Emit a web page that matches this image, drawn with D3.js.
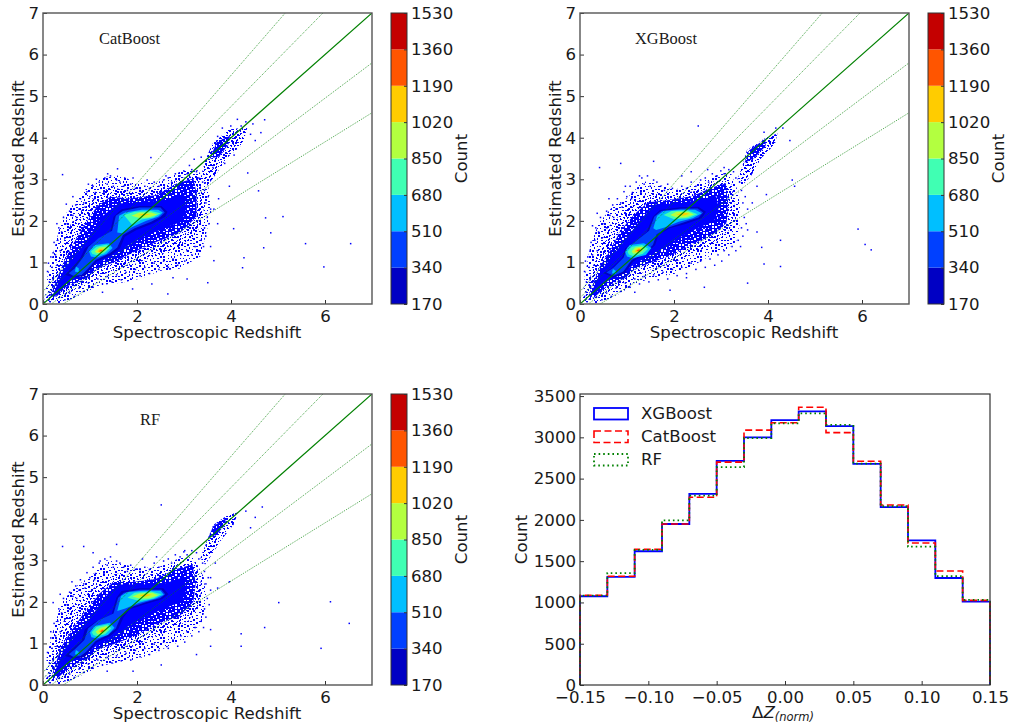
<!DOCTYPE html>
<html>
<head>
<meta charset="utf-8">
<script src="https://cdn.jsdelivr.net/npm/d3@7"></script>
<style>
  html, body { margin: 0; padding: 0; background: #fff; }
  svg { display: block; }
  text { font-family: "DejaVu Sans", sans-serif; fill: #1a1a1a; }
</style>
</head>
<body>
<svg id="chart" width="1013" height="725"></svg>
<script>
// ---- colorbar levels (contourf) ----
const LEVELS = [170, 340, 510, 680, 850, 1020, 1190, 1360, 1530];
const LEVEL_COLORS = ['#0000c4', '#0040ff', '#00bfff', '#40ffb3', '#b3ff40', '#ffcc00', '#ff5500', '#c40000'];

// ---- scatter panels: estimated outlines of the point cloud (spec z, est z) ----
const catSparse = [[.03,.05],[.1,.7],[.28,1.5],[.4,2.05],[.68,2.45],[.9,2.75],[1.25,3.05],[1.65,3.1],[2,2.9],[2.5,2.95],[2.95,3.2],[3.3,3.22],[3.52,2.8],[3.58,2.2],[3.45,1.6],[3.35,1.15],[2.9,.85],[2.5,.8],[2.1,.62],[1.7,.52],[1.2,.45],[.8,.22],[.4,.02]];
const catInner = [[.08,.08],[.25,.85],[.42,1.45],[.6,1.95],[.85,2.3],[1.12,2.62],[1.45,2.82],[1.9,2.68],[2.45,2.75],[2.9,3.02],[3.3,3.1],[3.4,2.6],[3.42,2.05],[3.2,1.55],[2.8,1.3],[2.4,1.15],[1.9,.95],[1.45,.78],[1.05,.62],[.75,.4],[.38,.12]];
const catMid = [[.15,.18],[.43,.98],[.65,1.46],[.86,1.86],[1.14,2.34],[1.43,2.58],[1.85,2.54],[2.42,2.62],[2.84,2.9],[3.2,3.02],[3.27,2.66],[3.27,2.1],[2.91,1.7],[2.42,1.5],[1.85,1.2],[1.5,1.0],[1.14,.85],[.93,.62],[.5,.42],[.29,.18]];
const catSolid = [[.2,.2],[.45,.85],[.75,1.25],[1.0,1.65],[1.25,2.1],[1.6,2.42],[2.1,2.45],[2.6,2.5],[3.0,2.65],[3.05,2.3],[2.95,1.98],[2.65,1.85],[2.2,1.65],[1.8,1.4],[1.45,1.15],[1.1,.95],[.8,.7],[.5,.5],[.3,.2]];
const catTail = [[3.35,3.0],[3.45,3.45],[3.6,3.85],[3.95,4.2],[4.35,4.25],[4.25,3.85],[3.9,3.5],[3.7,3.15],[3.5,2.85]];
const catCore = [[3.55,3.5],[3.7,3.9],[3.98,4.05],[3.95,3.85],[3.75,3.55]];
const catBands = [
  [0, [[.47,.70],[.61,.86],[.79,1.10],[.89,1.34],[1.14,1.54],[1.43,1.74],[1.50,2.10],[1.67,2.28],[2.06,2.36],[2.52,2.36],[2.65,2.22],[2.60,2.10],[2.35,1.94],[1.99,1.78],[1.74,1.62],[1.64,1.34],[1.46,1.18],[1.14,1.02],[1.0,.82],[.89,.67],[.65,.64]]],
  [1, [[.55,.74],[.68,.86],[.85,1.12],[.97,1.38],[1.18,1.58],[1.47,1.76],[1.55,2.12],[1.70,2.24],[2.06,2.32],[2.50,2.32],[2.59,2.2],[2.5,2.1],[2.3,1.98],[1.95,1.82],[1.70,1.66],[1.58,1.36],[1.42,1.22],[1.12,1.06],[.95,.84],[.82,.70],[.64,.68]]],
  [2, [[.98,1.26],[1.1,1.42],[1.4,1.46],[1.48,1.35],[1.35,1.2],[1.15,1.12],[1.02,1.14]]],
  [2, [[1.58,1.72],[1.62,2.12],[1.75,2.2],[2.1,2.27],[2.45,2.27],[2.55,2.2],[2.45,2.1],[2.2,2.0],[1.9,1.85],[1.68,1.7]]],
  [2, [[.68,.78],[.7,.9],[.76,.86],[.76,.76]]],
  [3, [[1.02,1.27],[1.14,1.38],[1.36,1.43],[1.42,1.34],[1.3,1.22],[1.15,1.17],[1.05,1.2]]],
  [3, [[1.72,2.14],[1.95,2.22],[2.3,2.24],[2.5,2.18],[2.35,2.08],[2.1,2.03],[1.9,1.9]]],
  [4, [[1.1,1.27],[1.2,1.36],[1.34,1.38],[1.36,1.32],[1.25,1.23],[1.14,1.22]]],
  [4, [[1.88,2.12],[2.05,2.2],[2.3,2.2],[2.43,2.15],[2.25,2.08],[2.05,2.07]]],
  [5, [[1.15,1.27],[1.22,1.33],[1.3,1.33],[1.28,1.27],[1.2,1.24]]],
  [5, [[2.02,2.14],[2.15,2.17],[2.28,2.16],[2.15,2.12]]],
  [6, [[1.18,1.27],[1.24,1.3],[1.27,1.28],[1.22,1.26]]]
];
const catPoints = [[5.57,1.47],[6.53,1.47],[5.96,.91],[5.09,2.12],[4.83,1.73],[4.72,2.09],[4.68,1.37],[4.57,2.74],[4.26,1.13],[4.23,.89],[4.04,1.83],[3.62,1.06],[3.49,.53],[2.64,.26],[1.89,.38],[.4,3.13],[1.57,3.27],[1.36,3.15],[2.28,3.54],[4.34,3.17],[4.62,4.14],[4.7,4.45],[4.45,4.35],[4.3,4.4],[4.12,4.46],[3.98,4.3],[4.2,4.3],[3.85,3.4],[4.05,3.6],[3.95,2.85],[3.72,2.55],[3.62,2.3],[3.7,1.95],[3.55,1.4],[3.05,.62],[2.75,.65],[2.3,.5],[1.25,.3],[.2,1.25],[.1,1.0],[.28,1.95],[.48,2.42],[.62,2.6],[.95,2.9],[1.12,3.02],[1.9,3.05],[2.2,3.0],[2.6,3.1],[3.1,3.35],[3.2,3.5],[3.35,3.55],[4.4,4.1],[4.5,3.95],[3.8,4.25],[3.7,4.05],[3.6,3.3]];

const xgbSparse = [[.05,.05],[.1,.65],[.22,1.4],[.4,1.95],[.7,2.35],[1.0,2.55],[1.35,2.95],[1.6,2.9],[2,2.75],[2.5,2.9],[2.85,3.08],[3.2,3.18],[3.38,2.65],[3.42,2.05],[3.32,1.5],[3.1,1.3],[2.75,1.15],[2.4,.92],[2,.72],[1.6,.65],[1.2,.5],[.8,.22],[.4,.02]];
const xgbInner = [[.1,.1],[.25,.8],[.4,1.35],[.6,1.85],[.9,2.2],[1.2,2.5],[1.5,2.68],[1.95,2.62],[2.45,2.72],[2.85,2.95],[3.2,3.0],[3.28,2.5],[3.28,2.0],[3.05,1.55],[2.65,1.35],[2.3,1.15],[1.9,.95],[1.45,.82],[1.05,.62],[.75,.38],[.38,.12]];
const xgbMid = [[.18,.2],[.42,.9],[.65,1.3],[.85,1.75],[1.15,2.15],[1.45,2.45],[1.9,2.5],[2.4,2.6],[2.8,2.8],[3.1,2.9],[3.15,2.4],[3.12,1.95],[2.8,1.65],[2.4,1.45],[1.9,1.15],[1.5,1.0],[1.15,.82],[.93,.6],[.55,.42],[.3,.15]];
const xgbSolid = [[.22,.22],[.45,.8],[.72,1.2],[1.0,1.6],[1.3,2.05],[1.6,2.4],[2.1,2.42],[2.5,2.5],[2.9,2.6],[2.95,2.3],[2.85,1.98],[2.55,1.85],[2.15,1.62],[1.8,1.38],[1.45,1.15],[1.15,.95],[.85,.7],[.5,.5],[.32,.22]];
const xgbTail = [[3.35,3.0],[3.45,3.3],[3.55,3.7],[3.95,4.0],[4.2,4.1],[4.15,3.85],[3.85,3.5],[3.65,3.1],[3.45,2.85]];
const xgbCore = [[3.5,3.4],[3.6,3.7],[3.95,3.98],[3.95,3.8],[3.7,3.5]];
const xgbBands = [
  [0, [[.50,.74],[.67,.86],[.89,1.10],[.96,1.34],[1.21,1.54],[1.42,1.74],[1.55,2.10],[1.70,2.26],[2.13,2.33],[2.52,2.34],[2.68,2.22],[2.59,2.06],[2.23,1.92],[1.91,1.82],[1.67,1.66],[1.60,1.42],[1.42,1.22],[1.13,1.02],[.96,.74],[.71,.64]]],
  [1, [[.56,.76],[.72,.88],[.93,1.12],[1.0,1.36],[1.24,1.56],[1.47,1.76],[1.58,2.10],[1.73,2.24],[2.13,2.29],[2.5,2.3],[2.62,2.2],[2.52,2.08],[2.2,1.96],[1.88,1.84],[1.63,1.68],[1.55,1.42],[1.38,1.24],[1.1,1.06],[.92,.78],[.72,.68]]],
  [2, [[.96,1.26],[1.06,1.42],[1.36,1.46],[1.52,1.35],[1.4,1.18],[1.12,1.1],[1.0,1.14]]],
  [2, [[1.56,1.82],[1.64,2.12],[1.78,2.24],[2.15,2.27],[2.45,2.27],[2.59,2.18],[2.4,2.06],[2.1,1.98],[1.8,1.84],[1.62,1.78]]],
  [2, [[.68,.74],[.7,.84],[.76,.8],[.76,.72]]],
  [3, [[1.01,1.26],[1.1,1.38],[1.32,1.42],[1.45,1.33],[1.33,1.2],[1.14,1.15],[1.04,1.19]]],
  [3, [[1.78,2.14],[1.95,2.24],[2.3,2.25],[2.5,2.16],[2.3,2.06],[2.0,2.04]]],
  [4, [[1.1,1.27],[1.18,1.36],[1.32,1.38],[1.37,1.32],[1.25,1.22],[1.13,1.21]]],
  [4, [[1.92,2.14],[2.05,2.22],[2.3,2.22],[2.42,2.15],[2.25,2.08],[2.05,2.08]]],
  [5, [[1.16,1.27],[1.24,1.34],[1.32,1.33],[1.3,1.27],[1.2,1.24]]],
  [5, [[2.05,2.15],[2.2,2.2],[2.33,2.17],[2.2,2.12]]],
  [6, [[1.2,1.28],[1.26,1.32],[1.29,1.29],[1.24,1.26]]]
];
const xgbPoints = [[5.9,1.82],[6.18,1.32],[6.05,1.45],[4.25,.92],[4.25,1.55],[3.9,.98],[3.85,1.38],[3.55,.52],[2.63,.42],[1.9,.35],[.4,3.3],[.85,3.4],[1.55,3.45],[2.5,4.3],[3.55,1.8],[3.75,1.75],[3.95,2.65],[3.65,2.45],[4.5,3.0],[4.55,2.85],[4.3,4.25],[4.15,4.25],[3.9,4.15],[4.45,3.95],[2.15,3.1],[2.35,3.2],[2.7,3.25],[3.05,3.3],[.35,2.2],[.25,1.9],[.1,1.05],[.6,2.55],[.95,2.85],[1.25,3.1],[3.75,2.85],[1.15,.3],[2.25,.65]];

const rfSparse = [[.05,.05],[.08,.7],[.25,1.45],[.4,2.0],[.68,2.35],[1.05,2.65],[1.35,3.0],[1.6,2.95],[2,2.8],[2.5,2.85],[2.9,3.05],[3.2,3.08],[3.42,2.6],[3.48,2.05],[3.38,1.5],[3.0,1.08],[2.7,.95],[2.4,.78],[2,.62],[1.6,.55],[1.2,.45],[.8,.22],[.4,.02]];
const rfInner = [[.1,.1],[.22,.85],[.38,1.4],[.58,1.85],[.9,2.15],[1.25,2.5],[1.55,2.68],[1.95,2.62],[2.45,2.68],[2.85,2.9],[3.25,2.95],[3.35,2.5],[3.35,2.0],[3.1,1.55],[2.7,1.32],[2.35,1.15],[1.9,.92],[1.45,.75],[1.05,.6],[.75,.38],[.38,.12]];
const rfMid = [[.18,.2],[.38,.9],[.6,1.3],[.85,1.7],[1.2,2.2],[1.5,2.48],[1.9,2.48],[2.4,2.55],[2.8,2.78],[3.18,2.9],[3.25,2.45],[3.2,2.0],[2.9,1.65],[2.45,1.48],[1.9,1.15],[1.5,.98],[1.15,.85],[.93,.62],[.55,.42],[.3,.15]];
const rfSolid = [[.22,.22],[.42,.8],[.7,1.2],[1.0,1.6],[1.3,2.1],[1.6,2.42],[2.1,2.42],[2.6,2.45],[3.0,2.6],[3.05,2.3],[2.95,2.0],[2.6,1.85],[2.2,1.65],[1.8,1.4],[1.45,1.12],[1.15,.95],[.85,.7],[.5,.5],[.32,.22]];
const rfTail = [[3.35,3.05],[3.5,3.5],[3.62,3.85],[3.95,4.1],[4.15,4.15],[4.05,3.85],[3.8,3.5],[3.6,3.15],[3.45,2.9]];
const rfCore = [[3.52,3.55],[3.62,3.82],[3.9,4.02],[3.85,3.82],[3.68,3.6]];
const rfBands = [
  [0, [[.47,.70],[.61,.86],[.82,1.06],[.89,1.34],[1.14,1.54],[1.46,1.7],[1.56,2.10],[1.67,2.26],[2.06,2.33],[2.56,2.33],[2.67,2.18],[2.53,2.06],[2.17,1.94],[1.85,1.82],[1.71,1.62],[1.60,1.34],[1.43,1.18],[1.14,1.02],[.96,.78],[.89,.67],[.65,.64]]],
  [1, [[.55,.74],[.68,.86],[.88,1.08],[.96,1.36],[1.18,1.56],[1.5,1.72],[1.6,2.10],[1.72,2.22],[2.06,2.29],[2.52,2.29],[2.6,2.18],[2.5,2.09],[2.15,1.98],[1.82,1.85],[1.66,1.66],[1.55,1.36],[1.4,1.22],[1.12,1.06],[.92,.8],[.8,.7],[.64,.68]]],
  [2, [[1.0,1.26],[1.1,1.42],[1.42,1.5],[1.52,1.38],[1.38,1.2],[1.15,1.12],[1.03,1.15]]],
  [2, [[1.58,1.78],[1.66,2.14],[1.8,2.24],[2.15,2.27],[2.5,2.27],[2.57,2.17],[2.4,2.08],[2.05,1.98],[1.75,1.84]]],
  [2, [[.68,.74],[.7,.84],[.76,.8],[.76,.72]]],
  [3, [[1.04,1.27],[1.14,1.4],[1.38,1.46],[1.45,1.36],[1.32,1.22],[1.15,1.17],[1.07,1.2]]],
  [3, [[1.8,2.1],[1.95,2.22],[2.3,2.25],[2.52,2.18],[2.35,2.08],[2.05,2.02]]],
  [4, [[1.12,1.28],[1.22,1.38],[1.36,1.42],[1.38,1.34],[1.27,1.23],[1.16,1.22]]],
  [4, [[1.9,2.13],[2.05,2.2],[2.32,2.22],[2.45,2.16],[2.25,2.08],[2.05,2.08]]],
  [5, [[1.18,1.29],[1.25,1.35],[1.33,1.36],[1.3,1.28],[1.22,1.25]]],
  [5, [[2.05,2.15],[2.18,2.19],[2.32,2.17],[2.18,2.12]]],
  [6, [[1.22,1.29],[1.27,1.33],[1.3,1.3],[1.25,1.27]]]
];
const rfPoints = [[6.1,2.02],[6.5,1.5],[5.9,.9],[5.0,2.0],[4.7,1.4],[4.2,1.25],[4.2,.95],[3.55,1.35],[3.55,.95],[3.25,.75],[2.5,.5],[1.9,.35],[1.35,.35],[.4,3.35],[.85,3.35],[1.05,3.2],[1.55,3.4],[2.5,4.35],[4.65,4.3],[4.3,4.2],[4.5,4.05],[3.95,2.5],[3.7,2.35],[3.55,2.6],[3.65,2.95],[4.4,3.8],[.2,2.0],[.15,1.3],[.35,2.2],[.6,2.5],[1.2,3.0],[2.1,3.05],[2.4,3.1],[3.0,3.25]];

// stragglers along the edge of the cloud, about the same in all three panels
const edgePoints = [[.12,.55],[.18,.9],[.08,.8],[.25,1.2],[.15,1.15],[.3,1.55],[.22,1.5],[.38,1.75],[.32,1.85],[.42,2.1],[.5,1.95],[.55,2.25],[.62,2.15],[.68,2.4],[.75,2.3],[.78,2.55],[.85,2.45],[.92,2.72],[.98,2.6],[1.05,2.85],[1.1,2.7],[1.18,2.95],[1.22,2.8],[1.3,3.05],[1.35,2.9],[1.42,3.1],[1.48,2.85],[1.55,3.0],[1.62,2.95],[1.7,2.85],[1.78,2.75],[1.85,2.9],[1.95,2.8],[2.05,2.75],[2.15,2.85],[2.25,2.8],[2.35,2.95],[2.45,2.85],[2.55,3.0],[2.65,3.05],[2.72,2.95],[2.8,3.15],[2.9,3.1],[2.98,3.22],[3.05,3.15],[3.15,3.25],[3.25,3.2],[3.3,3.05],[3.38,2.95],[3.42,2.75],[3.5,2.6],[3.45,2.45],[3.55,2.3],[3.48,2.1],[3.52,1.95],[3.42,1.85],[3.45,1.65],[3.35,1.55],[3.4,1.4],[3.3,1.3],[3.22,1.4],[3.15,1.2],[3.05,1.3],[3.0,1.05],[2.92,1.2],[2.85,.95],[2.75,1.1],[2.65,.9],[2.55,1.05],[2.45,.85],[2.35,1.0],[2.25,.75],[2.15,.9],[2.05,.7],[1.95,.85],[1.85,.62],[1.75,.78],[1.65,.6],[1.55,.72],[1.45,.55],[1.35,.68],[1.25,.5],[1.15,.62],[1.05,.42],[.95,.52],[.85,.32],[.75,.4],[.65,.2],[.55,.28],[.45,.12],[.08,.2],[.12,.3],[.2,.6],[.28,.95],[.35,1.3],[.45,1.6],[.55,1.85],[.7,2.1],[.88,2.35],[1.08,2.55],[1.28,2.7]];

// deviation of the guide lines from est = spec, in units of (1 + z)
const GUIDE_DEVS = [0.3, 0.15, -0.15, -0.3];

// ---- histogram of normalised residuals ----
const HIST_EDGES = [-0.15,-0.13,-0.11,-0.09,-0.07,-0.05,-0.03,-0.01,0.01,0.03,0.05,0.07,0.09,0.11,0.13,0.15];
const xgbHist = [1075,1310,1620,1950,2315,2715,3000,3209,3314,3137,2678,2155,1752,1296,1010];
const catHist = [1088,1318,1645,1950,2275,2700,3087,3177,3365,3057,2710,2180,1720,1381,1025];
const rfHist  = [1082,1355,1638,1995,2295,2640,2990,3170,3290,3150,2682,2165,1675,1320,1030];
const X_TICKS = [-0.15,-0.10,-0.05,0,0.05,0.10,0.15];
const Y_TICKS = [0,500,1000,1500,2000,2500,3000,3500];
const Z_TICKS_X = [0,2,4,6];
const Z_TICKS_Y = [0,1,2,3,4,5,6,7];

// speckle tile for the parts of the cloud where single points still show
const TILE = [
  "#...#.....#.....#..#....",
  ".....#..#.....#.......#.",
  "..#.......#.#.....#.....",
  "#.....#........#.....#..",
  "...#.....#..#......#....",
  ".#....#.......#.#.....#.",
  "....#....#.#.......#....",
  "#.#.....#.....#..#....#.",
  "......#....#.......#....",
  "..#.#.....#...#.#.....#.",
  "#.......#.........#.#...",
  "....#.#....#.#........#.",
  ".#.......#.....#..#.....",
  "...#..#.....#.......#..#",
  "#.....#.#.......#.#.....",
  "..#........#.#.......#..",
  ".....#.#.......#...#....",
  "#..#.......#.....#....#.",
  "......#.#....#.#........",
  ".#..#......#.......#.#..",
  "........#.....#.#......#",
  "..#.#.....#.#.......#...",
  "#.....#.........#.#.....",
  "...#.....#.#.#.......#.."
];

const FONT = 16.6;
const SPINE = '#555';
const svg = d3.select('#chart');
const defs = svg.append('defs');

function makeTile(id, background, ink, transform) {
  const cell = 1.5;
  const p = defs.append('pattern').attr('id', id).attr('patternUnits', 'userSpaceOnUse')
    .attr('width', TILE[0].length * cell).attr('height', TILE.length * cell);
  if (transform) p.attr('patternTransform', transform);
  if (background) p.append('rect').attr('width', '100%').attr('height', '100%').attr('fill', background);
  TILE.forEach((row, r) => row.split('').forEach((c, k) => {
    if (c === '#') p.append('rect').attr('x', k * cell).attr('y', r * cell)
      .attr('width', cell).attr('height', cell).attr('fill', ink).attr('shape-rendering', 'crispEdges');
  }));
}
makeTile('speckleSparse', null, '#0000ff');
makeTile('speckleTurned', null, '#0000ff', 'rotate(90) translate(7,11)');
makeTile('speckleMid', '#0000ff', '#ffffff');

function frame(g, W, H) {
  g.append('rect').attr('width', W).attr('height', H).attr('fill', 'none')
    .attr('stroke', SPINE).attr('stroke-width', 1.4);
}

function styleAxis(a) {
  a.selectAll('.domain').remove();
  a.selectAll('line').attr('stroke', '#333').attr('stroke-width', 1);
  a.selectAll('text').attr('font-size', FONT).attr('fill', '#1a1a1a').attr('font-family', '"DejaVu Sans", sans-serif');
}

function scatterPanel(opt) {
  const W = 329, H = 291;
  const x = d3.scaleLinear().domain([0, 7]).range([0, W]);
  const y = d3.scaleLinear().domain([0, 7]).range([H, 0]);
  const g = svg.append('g').attr('transform', `translate(${opt.left},${opt.top})`);
  const clipId = 'clip' + opt.name;
  defs.append('clipPath').attr('id', clipId).append('rect').attr('width', W).attr('height', H);
  const plot = g.append('g').attr('clip-path', `url(#${clipId})`);
  const poly = d3.line().x(d => x(d[0])).y(d => y(d[1])).curve(d3.curveLinearClosed);

  // cloud, from the outside in: sparse fringe, thicker fringe, speckled shell, solid middle
  plot.append('path').attr('d', poly(opt.sparse)).attr('fill', 'url(#speckleSparse)');
  plot.append('path').attr('d', poly(opt.inner)).attr('fill', 'url(#speckleTurned)');
  plot.append('path').attr('d', poly(opt.tail)).attr('fill', 'url(#speckleSparse)');
  plot.append('path').attr('d', poly(opt.tail)).attr('fill', 'url(#speckleTurned)');
  plot.append('path').attr('d', poly(opt.core)).attr('fill', 'url(#speckleMid)');
  plot.append('path').attr('d', poly(opt.mid)).attr('fill', 'url(#speckleMid)');
  plot.append('path').attr('d', poly(opt.solid)).attr('fill', '#0000ff');

  plot.selectAll('rect.pt').data(opt.points.concat(edgePoints)).join('rect').attr('class', 'pt')
    .attr('x', d => x(d[0])).attr('y', d => y(d[1]))
    .attr('width', 1.5).attr('height', 1.5).attr('fill', '#0000ff');

  // filled contour levels
  plot.selectAll('path.band').data(opt.bands).join('path').attr('class', 'band')
    .attr('d', d => poly(d[1])).attr('fill', d => LEVEL_COLORS[d[0]]);

  // guide lines
  const line = d3.line().x(d => x(d[0])).y(d => y(d[1]));
  plot.append('path').attr('d', line([[0, 0], [7, 7]])).attr('fill', 'none')
    .attr('stroke', '#008000').attr('stroke-width', 1.2);
  plot.selectAll('path.guide').data(GUIDE_DEVS).join('path').attr('class', 'guide')
    .attr('d', dev => line([[0, dev], [7, 7 + dev * 8]]))
    .attr('fill', 'none').attr('stroke', '#008000').attr('stroke-width', 1)
    .attr('stroke-dasharray', '1 1.2').attr('stroke-opacity', 0.75);

  styleAxis(g.append('g').attr('transform', `translate(0,${H})`)
    .call(d3.axisBottom(x).tickValues(Z_TICKS_X).tickFormat(d3.format('d')).tickSizeInner(-4).tickPadding(6).tickSizeOuter(0)));
  styleAxis(g.append('g')
    .call(d3.axisLeft(y).tickValues(Z_TICKS_Y).tickFormat(d3.format('d')).tickSizeInner(-4).tickPadding(4).tickSizeOuter(0)));
  frame(g, W, H);

  g.append('text').attr('x', W / 2 - 0.5).attr('y', H + 34).attr('text-anchor', 'middle').attr('font-size', FONT).text('Spectroscopic Redshift');
  g.append('text').attr('transform', `translate(${-19},${H / 2}) rotate(-90)`).attr('text-anchor', 'middle').attr('font-size', FONT).text('Estimated Redshift');
  g.append('text').attr('x', opt.labelX).attr('y', 31).attr('font-size', 16.4)
    .style('font-family', '"Liberation Serif", serif').text(opt.name);

  // colorbar
  const c = d3.scaleLinear().domain([LEVELS[0], LEVELS[LEVELS.length - 1]]).range([H, 0]);
  const cb = g.append('g').attr('transform', `translate(${W + 19},0)`);
  cb.selectAll('rect').data(LEVEL_COLORS).join('rect')
    .attr('x', 0).attr('width', 16)
    .attr('y', (d, i) => c(LEVELS[i + 1])).attr('height', (d, i) => c(LEVELS[i]) - c(LEVELS[i + 1]))
    .attr('fill', d => d);
  cb.append('rect').attr('width', 16).attr('height', H).attr('fill', 'none').attr('stroke', '#333').attr('stroke-width', 1);
  const ca = cb.append('g').attr('transform', 'translate(16,0)')
    .call(d3.axisRight(c).tickValues(LEVELS).tickFormat(d3.format('d')).tickSizeInner(-3).tickPadding(4).tickSizeOuter(0));
  styleAxis(ca);
  cb.append('text').attr('transform', `translate(76,${H / 2}) rotate(-90)`).attr('text-anchor', 'middle').attr('font-size', FONT).text('Count');
}

scatterPanel({ name: 'CatBoost', left: 43, top: 13, labelX: 56, sparse: catSparse, inner: catInner, mid: catMid, solid: catSolid, tail: catTail, core: catCore, bands: catBands, points: catPoints });
scatterPanel({ name: 'XGBoost', left: 580, top: 13, labelX: 55, sparse: xgbSparse, inner: xgbInner, mid: xgbMid, solid: xgbSolid, tail: xgbTail, core: xgbCore, bands: xgbBands, points: xgbPoints });
scatterPanel({ name: 'RF', left: 43, top: 394, labelX: 97, sparse: rfSparse, inner: rfInner, mid: rfMid, solid: rfSolid, tail: rfTail, core: rfCore, bands: rfBands, points: rfPoints });

// ---- histogram panel ----
(function histPanel() {
  const W = 410, H = 291;
  const g = svg.append('g').attr('transform', 'translate(580,394)');
  const x = d3.scaleLinear().domain([-0.15, 0.15]).range([0, W]);
  const y = d3.scaleLinear().domain([0, 3525]).range([H, 0]);
  const stepLine = d3.line().x(d => x(d[0])).y(d => y(d[1]));
  const steps = vals => {
    const pts = [[HIST_EDGES[0], 0]];
    vals.forEach((v, i) => { pts.push([HIST_EDGES[i], v], [HIST_EDGES[i + 1], v]); });
    pts.push([HIST_EDGES[HIST_EDGES.length - 1], 0]);
    return pts;
  };
  const series = [
    { name: 'XGBoost', vals: xgbHist, color: '#0000ff', dash: null, w: 1.8 },
    { name: 'CatBoost', vals: catHist, color: '#ff0000', dash: '7 3.5', w: 1.6 },
    { name: 'RF', vals: rfHist, color: '#008000', dash: '1.6 3', w: 1.8 }
  ];
  series.forEach(s => {
    g.append('path').attr('d', stepLine(steps(s.vals))).attr('fill', 'none')
      .attr('stroke', s.color).attr('stroke-width', s.w).attr('stroke-dasharray', s.dash);
  });
  styleAxis(g.append('g').attr('transform', `translate(0,${H})`)
    .call(d3.axisBottom(x).tickValues(X_TICKS).tickFormat(d => d3.format('.2f')(d).replace('-', '\u2212')).tickSizeInner(-4).tickPadding(6).tickSizeOuter(0)));
  styleAxis(g.append('g')
    .call(d3.axisLeft(y).tickValues(Y_TICKS).tickFormat(d3.format('d')).tickSizeInner(-4).tickPadding(4).tickSizeOuter(0)));
  g.append('rect').attr('width', W).attr('height', H).attr('fill', 'none').attr('stroke', '#333').attr('stroke-width', 1.2);

  g.append('text').attr('transform', `translate(${-53},${H / 2}) rotate(-90)`).attr('text-anchor', 'middle').attr('font-size', FONT).text('Count');
  const xl = g.append('text').attr('x', W / 2 - 2).attr('y', H + 33).attr('text-anchor', 'middle').attr('font-size', FONT);
  xl.append('tspan').text('\u0394');
  xl.append('tspan').attr('font-style', 'italic').text('Z');
  xl.append('tspan').attr('font-style', 'italic').attr('font-size', 11.5).attr('dy', 3).text('(norm)');

  const leg = g.append('g').selectAll('g').data(series).join('g')
    .attr('transform', (d, i) => `translate(14,${14 + i * 23})`);
  leg.append('rect').attr('width', 34).attr('height', 11.5).attr('fill', 'none')
    .attr('stroke', d => d.color).attr('stroke-width', d => d.w).attr('stroke-dasharray', d => d.dash);
  leg.append('text').attr('x', 47).attr('y', 11).attr('font-size', FONT).text(d => d.name);
})();
</script>
</body>
</html>
